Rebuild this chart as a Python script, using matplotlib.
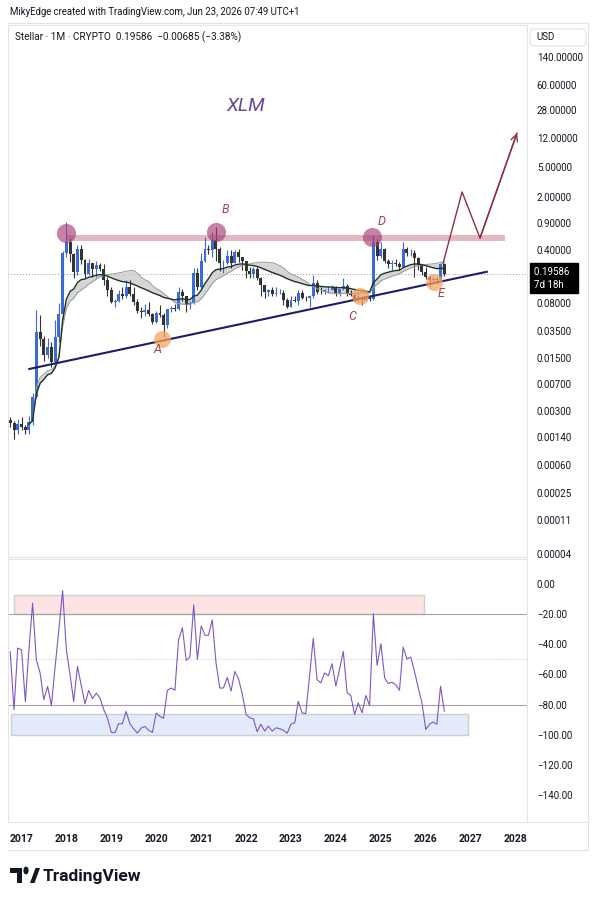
import matplotlib
matplotlib.use("Agg")
import matplotlib.pyplot as plt
import matplotlib.dates as mdates
import matplotlib.transforms as mtransforms
from matplotlib.lines import Line2D
from matplotlib.patches import Rectangle, Polygon, FancyBboxPatch
import numpy as np
import pandas as pd

plt.rcParams["font.family"] = ["Roboto", "DejaVu Sans"]

# --- monthly XLM candles, Oct 2016 .. Jun 2026 ---
start_month = "2016-10-01"
first_open = 0.00235
close = [0.00210, 0.00170, 0.00205, 0.00185, 0.00172, 0.00218, 0.00470, 0.03300, 0.02700, 0.01650,
         0.02150, 0.01330, 0.02900, 0.05800, 0.37000, 0.52000, 0.36000, 0.20500, 0.42000, 0.30000,
         0.19500, 0.27000, 0.22500, 0.25500, 0.22800, 0.16000, 0.12000, 0.08300, 0.08600, 0.10600,
         0.10000, 0.13300, 0.10500, 0.08200, 0.06300, 0.06100, 0.06500, 0.05700, 0.04500, 0.06000,
         0.05600, 0.04200, 0.06700, 0.06900, 0.06700, 0.11200, 0.10000, 0.07700, 0.08000, 0.20000,
         0.13000, 0.29000, 0.41000, 0.40000, 0.54000, 0.41000, 0.27000, 0.27000, 0.34000, 0.27500,
         0.37500, 0.33000, 0.29000, 0.21000, 0.19500, 0.22500, 0.17300, 0.14000, 0.11200, 0.11800,
         0.10500, 0.10900, 0.10900, 0.08700, 0.07200, 0.08800, 0.08500, 0.10800, 0.09500, 0.09300,
         0.10000, 0.14700, 0.11400, 0.11100, 0.11900, 0.12000, 0.12800, 0.11000, 0.12400, 0.13700,
         0.10500, 0.10300, 0.08800, 0.09700, 0.08900, 0.10000, 0.09100, 0.52000, 0.34000, 0.41600,
         0.29000, 0.26700, 0.27200, 0.26300, 0.24200, 0.41000, 0.36500, 0.36600, 0.31800, 0.25700,
         0.20400, 0.17500, 0.16000, 0.16700, 0.16000, 0.26000, 0.19586]
high = [0.00250, 0.00225, 0.00240, 0.00250, 0.00200, 0.00260, 0.00520, 0.06500, 0.05600, 0.03000,
        0.02800, 0.02500, 0.04800, 0.08000, 0.39000, 0.93000, 0.58000, 0.37000, 0.47000, 0.47000,
        0.31000, 0.31000, 0.27000, 0.29000, 0.27000, 0.26000, 0.18000, 0.13000, 0.09200, 0.12000,
        0.13000, 0.16000, 0.16000, 0.13000, 0.09000, 0.07200, 0.07800, 0.08200, 0.06000, 0.06400,
        0.07500, 0.06000, 0.06800, 0.07400, 0.07800, 0.13000, 0.12500, 0.10000, 0.08500, 0.23000,
        0.23000, 0.37000, 0.60000, 0.47000, 0.70000, 0.80000, 0.44000, 0.30000, 0.40000, 0.40000,
        0.40000, 0.41000, 0.33000, 0.28000, 0.24000, 0.24000, 0.24000, 0.18000, 0.14000, 0.12500,
        0.13000, 0.13000, 0.12500, 0.12000, 0.09300, 0.10000, 0.10000, 0.12000, 0.12000, 0.10000,
        0.10200, 0.19000, 0.16000, 0.13000, 0.12500, 0.13500, 0.14000, 0.13500, 0.12500, 0.17000,
        0.14500, 0.12000, 0.11000, 0.11000, 0.10000, 0.10200, 0.10200, 0.64000, 0.56000, 0.52000,
        0.43000, 0.31000, 0.30000, 0.31000, 0.28000, 0.52000, 0.44000, 0.41000, 0.40000, 0.33000,
        0.26000, 0.24000, 0.19000, 0.18500, 0.18000, 0.27000, 0.27000]
low = [0.00190, 0.00130, 0.00150, 0.00170, 0.00150, 0.00150, 0.00200, 0.00450, 0.02200, 0.01400,
       0.01500, 0.01150, 0.01250, 0.02500, 0.05000, 0.33000, 0.28000, 0.17000, 0.19000, 0.26000,
       0.17000, 0.19000, 0.18000, 0.18000, 0.21000, 0.14000, 0.10000, 0.08000, 0.07200, 0.08400,
       0.09000, 0.09500, 0.10000, 0.07500, 0.06000, 0.05100, 0.05500, 0.05400, 0.04300, 0.04400,
       0.05200, 0.02900, 0.03800, 0.06200, 0.06300, 0.06500, 0.08500, 0.06200, 0.06700, 0.07800,
       0.12000, 0.12000, 0.28000, 0.36000, 0.33000, 0.29000, 0.21000, 0.20000, 0.26000, 0.23000,
       0.27000, 0.28000, 0.22000, 0.17000, 0.17000, 0.17000, 0.16000, 0.10000, 0.09500, 0.10000,
       0.10000, 0.10000, 0.10500, 0.07700, 0.07000, 0.07100, 0.08300, 0.07600, 0.09000, 0.08500,
       0.07200, 0.09500, 0.10500, 0.10500, 0.10500, 0.11000, 0.12000, 0.10000, 0.10000, 0.12000,
       0.10000, 0.10000, 0.08500, 0.08300, 0.07500, 0.08500, 0.08500, 0.08800, 0.30000, 0.32000,
       0.27000, 0.23000, 0.22000, 0.25000, 0.22000, 0.24000, 0.34000, 0.34000, 0.18000, 0.22000,
       0.19000, 0.16500, 0.13500, 0.14500, 0.14500, 0.15500, 0.18500]

# lower pane oscillator (Williams %R style), one value per month
wpr = [-45, -83.4, -42.5, -43.7, -78, -45, -12.8, -50.3, -59, -76.8,
       -68, -80.6, -55, -30, -4.4, -44, -61, -78, -54.7, -67,
       -79.5, -70.6, -76, -72.4, -75.7, -83.4, -89, -98.5, -98.5, -92.7,
       -92.7, -84.5, -92.7, -96, -98.9, -95.6, -94.5, -97, -98.5, -85.6,
       -87.9, -89, -70.5, -69, -70.5, -37, -29, -50.7, -48.5, -13.9,
       -50, -27.8, -34, -34, -23.8, -52, -69, -69, -62, -71,
       -58, -63, -73, -86.6, -88.8, -89.4, -98, -93, -97.6, -94.3,
       -97.6, -95.4, -96, -97, -99, -93, -92, -77.8, -85.5, -86,
       -61, -36, -63.4, -65.6, -59, -60.8, -52.9, -67.8, -56, -44.7,
       -72, -74, -86.6, -78.9, -85.5, -74, -80.6, -19.8, -54, -39.6,
       -62.3, -66, -65.2, -66.7, -70.5, -41.9, -49.8, -48.5, -58, -69,
       -78.9, -96.5, -93, -91.6, -93, -67.8, -84.4]

price_ticks = [140, 60, 28, 12, 5, 2, 0.9, 0.4, 0.08, 0.035, 0.015, 0.007,
               0.003, 0.0014, 0.0006, 0.00025, 0.00011, 0.00004]
wpr_ticks = [0, -20, -40, -60, -80, -100, -120, -140]
years = list(range(2017, 2029))

# drawings on the chart (date, price)
resistance = ("2017-12-28", "2027-10-07", 0.53, 0.63)
trend_pts = [("2017-03-05", 0.0109), ("2027-05-12", 0.208)]
top_marks = [("2018-01-01", 0.674), ("2021-05-01", 0.695), ("2024-10-20", 0.597)]
low_marks = [("2020-02-16", 0.027), ("2024-07-16", 0.100), ("2026-03-09", 0.152)]
letters = [("A", "2020-01-15", 0.0194), ("B", "2021-07-13", 1.355), ("C", "2024-05-11", 0.0543),
           ("D", "2025-01-11", 0.97), ("E", "2026-05-04", 0.106)]
path_pts = [("2026-05-22", 0.271), ("2026-10-23", 2.34), ("2027-03-18", 0.579), ("2028-01-13", 14.0)]
ob_zone = ("2016-11-01", "2025-12-19", -20, -7.5)
os_zone = ("2016-10-07", "2026-12-10", -100, -86)

UP = "#3a6bd8"
DOWN = "#333333"
TXT = "#131722"
LINE = "#e0e3eb"

W, H = 598, 900


def frac(x0, y0, x1, y1):
    """pixel box (top-left origin) -> figure rect"""
    return [x0 / W, 1 - y1 / H, (x1 - x0) / W, (y1 - y0) / H]


def d(s):
    return mdates.date2num(pd.Timestamp(s))


dates = pd.date_range(start_month, periods=len(close), freq="MS")
c = np.array(close)
o = np.r_[first_open, c[:-1]]
h = np.array(high)
l = np.array(low)
colors = np.where(c >= o, UP, DOWN)

fig = plt.figure(figsize=(W / 100, H / 100), dpi=100)
ax = fig.add_axes(frac(8, 25, 527, 557))
ax2 = fig.add_axes(frac(8, 559, 527, 822), sharex=ax)

# ---- price pane ----
ax.set_yscale("log")
ax.vlines(dates, l, h, colors=colors, lw=0.8, zorder=3)
ax.bar(dates, np.abs(c - o), bottom=np.minimum(c, o), width=24, color=colors, zorder=3)

s = pd.Series(c, index=dates)
sma20 = s.rolling(20, min_periods=1).mean()
ema21 = s.ewm(span=21, adjust=False).mean()
rib = slice(5, None)
ax.fill_between(dates[rib], sma20[rib], ema21[rib], color="#c9c9c9", alpha=0.75, lw=0, zorder=2)
ax.plot(dates[rib], sma20[rib], color="#9a9a9a", lw=0.7, zorder=4)
ax.plot(dates[rib], ema21[rib], color="#1c3326", lw=1.0, zorder=4)

ax.axhline(c[-1], color="#9598a1", lw=0.7, ls=(0, (1, 2)), zorder=1)

x0, x1, p0, p1 = resistance
ax.add_patch(Rectangle((d(x0), p0), d(x1) - d(x0), p1 - p0, color="#b5475f", alpha=0.38, lw=0, zorder=5))

ax.plot([pd.Timestamp(t) for t, _ in trend_pts], [p for _, p in trend_pts], color="#1f1a6b", lw=1.5, zorder=6)

ax.scatter([pd.Timestamp(t) for t, _ in top_marks], [p for _, p in top_marks],
           s=190, color="#a63d77", alpha=0.65, lw=0, zorder=7)
ax.scatter([pd.Timestamp(t) for t, _ in low_marks], [p for _, p in low_marks],
           s=150, color="#f7a35c", alpha=0.75, lw=0, zorder=7)
for name, t, p in letters:
    ax.text(pd.Timestamp(t), p, name, color="#a3434f", fontsize=9, style="italic", ha="center", va="center", zorder=8)

ax.text(pd.Timestamp("2022-01-01"), 31.7, "XLM", color="#6a4597", fontsize=14, style="italic",
        ha="center", va="center")

px = [pd.Timestamp(t) for t, _ in path_pts]
py = [p for _, p in path_pts]
ax.plot(px, py, color="#8e2f3f", lw=1.0, zorder=8)
ax.annotate("", xy=(px[-1], py[-1]), xytext=(px[-2], py[-2]),
            arrowprops=dict(arrowstyle="->", color="#8e2f3f", lw=1.0, mutation_scale=12, shrinkA=0, shrinkB=0),
            zorder=8)

ax.set_ylim(3.63e-5, 371)
ax.set_xlim(pd.Timestamp("2016-09-13"), pd.Timestamp("2028-04-03"))
ax.yaxis.tick_right()
ax.set_yticks(price_ticks)
ax.set_yticklabels([f"{v:.5f}" for v in price_ticks])
ax.yaxis.set_minor_locator(plt.NullLocator())
ax.tick_params(axis="y", length=0, pad=7, labelsize=7, labelcolor=TXT)
ax.tick_params(axis="x", length=0, labelbottom=False)

# last price label
blend = mtransforms.blended_transform_factory(ax.transAxes, ax.transData)
ax.annotate(f"{c[-1]:.5f}  \n7d 18h", xy=(1.0, c[-1]), xycoords=blend, xytext=(5, 5),
            textcoords="offset points", va="top", ha="left", fontsize=7, color="white",
            linespacing=1.35, annotation_clip=False,
            bbox=dict(boxstyle="square,pad=0.4", fc="black", ec="black"))

# ---- oscillator pane ----
ax2.plot(dates, wpr, color="#7e57c2", lw=0.8, zorder=4)
for lvl in (-20, -80):
    ax2.axhline(lvl, color="#a3a3a3", lw=0.8, zorder=2)
ax2.axhline(-50, color="#b2b5be", lw=0.6, ls=(0, (1, 2)), zorder=2)
for (t0, t1, v0, v1), fc in ((ob_zone, "#fde3e3"), (os_zone, "#e2ebfb")):
    ax2.add_patch(Rectangle((d(t0), v0), d(t1) - d(t0), v1 - v0, fc=fc, ec="#cfcfcf", lw=1.0, zorder=1))

ax2.set_ylim(-157.9, 16.6)
ax2.yaxis.tick_right()
ax2.set_yticks(wpr_ticks)
ax2.set_yticklabels([f"{v:.2f}".replace("-", "\u2212") for v in wpr_ticks])
ax2.tick_params(axis="y", length=0, pad=7, labelsize=7, labelcolor=TXT)
ax2.set_xticks([pd.Timestamp(f"{y}-01-01") for y in years])
ax2.set_xticklabels([str(y) for y in years])
ax2.tick_params(axis="x", length=0, pad=9, labelsize=7.5, labelcolor=TXT)
for lab in ax2.get_xticklabels():
    lab.set_fontweight("bold")

for a in (ax, ax2):
    for sp in a.spines.values():
        sp.set_color(LINE)
        sp.set_linewidth(0.8)

# outer frame of the widget
for xs, ys in (([8, 588], [23, 23]), ([588, 588], [23, 850]), ([8, 588], [850, 850]), ([527, 588], [822, 822])):
    fig.add_artist(Line2D([x / W for x in xs], [1 - y / H for y in ys], color=LINE, lw=0.8))

# ---- texts ----
fig.text(10 / W, 1 - 12 / H, "MikyEdge created with TradingView.com, Jun 23, 2026 07:49 UTC+1",
         fontsize=6.9, color=TXT, va="center")
fig.text(15 / W, 1 - 37 / H, "Stellar \u00b7 1M \u00b7 CRYPTO  0.19586  \u22120.00685 (\u22123.38%)",
         fontsize=7.2, color=TXT, va="center")

usd = FancyBboxPatch((530 / W, 1 - 46 / H), 56 / W, 17 / H, boxstyle="round,pad=0,rounding_size=0.005",
                     transform=fig.transFigure, fc="white", ec=LINE, lw=0.8)
fig.add_artist(usd)
fig.text(536 / W, 1 - 37.5 / H, "USD", fontsize=7, color=TXT, va="center")

# TradingView logo
def poly(pts, **kw):
    fig.add_artist(Polygon([(x / W, 1 - y / H) for x, y in pts], closed=True, transform=fig.transFigure, **kw))

poly([(10, 868), (22, 868), (22, 883), (17, 883), (17, 873), (10, 873)], fc=TXT, lw=0)
poly([(30, 883), (35.5, 868), (40, 868), (34.5, 883)], fc=TXT, lw=0)
fig.add_artist(plt.Circle((26 / W, 1 - 870.5 / H), 2.6 / W, transform=fig.transFigure, fc=TXT, lw=0))
fig.text(43 / W, 1 - 876 / H, "TradingView", fontsize=12.5, fontweight="bold", color=TXT, va="center")

fig.savefig("out.png", dpi=100)
